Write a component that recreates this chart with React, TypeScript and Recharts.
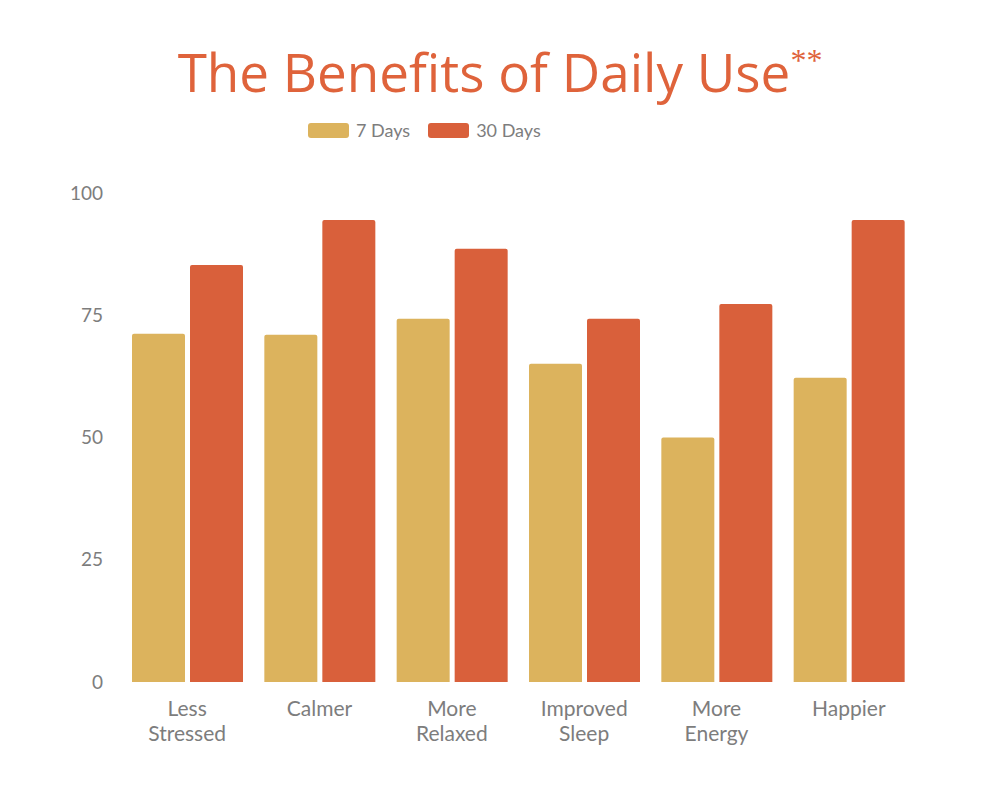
import { BarChart, Bar, XAxis, YAxis, Legend } from 'recharts';

const categories = ['Less Stressed', 'Calmer', 'More Relaxed', 'Improved Sleep', 'More Energy', 'Happier'];
const sevenDays = [71.2, 71, 74.3, 65.1, 50, 62.2];
const thirtyDays = [85.3, 94.5, 88.6, 74.3, 77.3, 94.5];
const yTicks = [0, 25, 50, 75, 100];

const data = categories.map((name, i) => ({ name, d7: sevenDays[i], d30: thirtyDays[i] }));

const GOLD = '#dcb35d';
const ORANGE = '#d9603b';
const GREY = '#7d7d7d';
const FONT = 'Lato, "Open Sans", sans-serif';

function CategoryTick({ x, y, payload }: any) {
  const words = String(payload.value).split(' ');
  return (
    <text x={x} y={y} textAnchor="middle" fill={GREY} fontSize={21} fontFamily={FONT}>
      {words.map((w, i) => (
        <tspan key={i} x={x} dy={i === 0 ? 26 : 25}>{w}</tspan>
      ))}
    </text>
  );
}

function LegendContent() {
  const items = [
    { label: '7 Days', color: GOLD },
    { label: '30 Days', color: ORANGE },
  ];
  return (
    <div style={{ height: 75, display: 'flex', justifyContent: 'flex-start', paddingLeft: 247, gap: 18, fontFamily: FONT }}>
      {items.map((it) => (
        <div key={it.label} style={{ display: 'flex', alignItems: 'flex-start', gap: 7, height: 24 }}>
          <span style={{ width: 41, height: 15, marginTop: 5, background: it.color, borderRadius: 3, display: 'inline-block' }} />
          <span style={{ fontSize: 18, color: GREY, lineHeight: '24px' }}>{it.label}</span>
        </div>
      ))}
    </div>
  );
}

export default function App() {
  return (
    <div style={{ position: 'absolute', left: 0, top: 0, width: 1000, height: 800, background: '#fff' }}>
      <div
        style={{
          position: 'absolute',
          top: 40,
          left: 0,
          width: 1000,
          textAlign: 'center',
          fontFamily: '"Open Sans", sans-serif',
          fontWeight: 500,
          fontSize: 53,
          color: '#df633b',
          lineHeight: '64px',
          whiteSpace: 'nowrap',
        }}
      >
        The Benefits of Daily Use
        <span style={{ fontFamily: '"Liberation Serif", serif', fontSize: 32, verticalAlign: 'top', lineHeight: '40px' }}>**</span>
      </div>
      <BarChart
        width={1000}
        height={800}
        data={data}
        margin={{ top: 118, right: 85, bottom: 88, left: 61 }}
        barCategoryGap={11}
        barGap={5}
      >
        <Legend verticalAlign="top" align="center" content={<LegendContent />} />
        <XAxis
          dataKey="name"
          height={30}
          axisLine={false}
          tickLine={false}
          interval={0}
          tick={<CategoryTick />}
        />
        <YAxis
          width={60}
          domain={[0, 100]}
          ticks={yTicks}
          axisLine={false}
          tickLine={false}
          tickSize={0}
          tickMargin={18}
          tick={{ fill: GREY, fontSize: 19, fontFamily: FONT }}
        />
        <Bar dataKey="d7" name="7 Days" fill={GOLD} radius={[2, 2, 0, 0]} isAnimationActive={false} />
        <Bar dataKey="d30" name="30 Days" fill={ORANGE} radius={[2, 2, 0, 0]} isAnimationActive={false} />
      </BarChart>
    </div>
  );
}
